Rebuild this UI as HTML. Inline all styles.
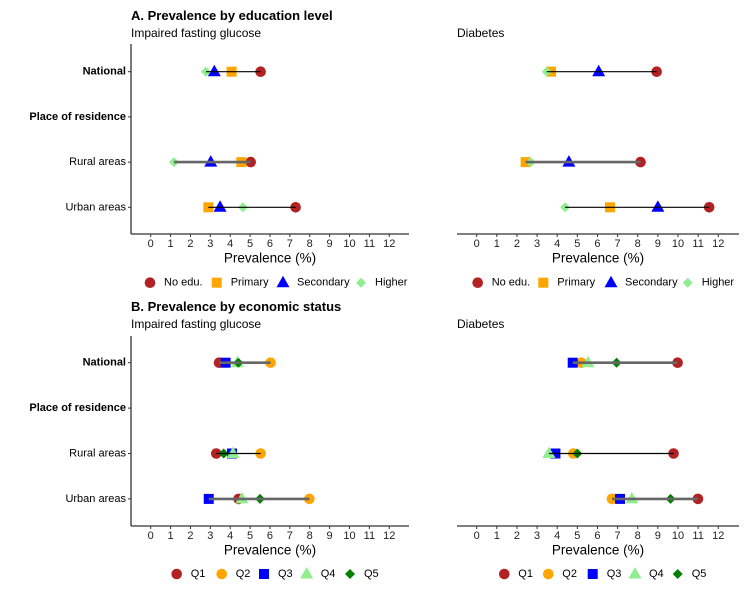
<!DOCTYPE html>
<html><head><meta charset="utf-8"><style>
body{margin:0;background:#fff;}
svg text{font-family:"Liberation Sans",Arial,sans-serif;}
</style></head><body>
<svg id="chart" width="750" height="600" xmlns="http://www.w3.org/2000/svg"></svg>
<script>
const rowLabels = ["National","Place of residence","Rural areas","Urban areas"];
const rowBold = [true,true,false,false];
const xTicks = [0,1,2,3,4,5,6,7,8,9,10,11,12];
const eduSeries = ["No edu.","Primary","Secondary","Higher"];
const ecoSeries = ["Q1","Q2","Q3","Q4","Q5"];
// values per row: National, Rural, Urban (Place of residence is a header row)
const eduIfg = [[5.53,4.07,3.2,2.78],[5.03,4.56,3.02,1.17],[7.29,2.9,3.49,4.64]];
const eduDia = [[8.94,3.69,6.06,3.48],[8.14,2.43,4.58,2.68],[11.55,6.62,9.0,4.39]];
const ecoIfg = [[3.44,6.03,3.77,4.36,4.41],[3.30,5.53,4.09,4.14,3.67],[4.42,7.98,2.92,4.59,5.5]];
const ecoDia = [[9.98,5.2,4.77,5.53,6.95],[9.78,4.8,3.91,3.59,5.0],[10.99,6.72,7.12,7.71,9.63]];

const svg = document.getElementById('chart');
const NS = 'http://www.w3.org/2000/svg';
function mk(tag, attrs, parent){const e=document.createElementNS(NS,tag);for(const k in attrs)e.setAttribute(k,attrs[k]);(parent||svg).appendChild(e);return e;}
function txt(s,x,y,opt,parent){const t=mk('text',Object.assign({x:x,y:y,'dominant-baseline':'central'},opt),parent);t.textContent=s;return t;}

const shapeInfo = {
  edu:[{s:'circle',c:'#B22222'},{s:'square',c:'#FFA500'},{s:'triangle',c:'#0000FF'},{s:'diamond',c:'#90EE90'}],
  eco:[{s:'circle',c:'#B22222'},{s:'circle',c:'#FFA500'},{s:'square',c:'#0000FF'},{s:'triangle',c:'#90EE90'},{s:'diamond',c:'#008000'}]
};
function marker(shape,color,x,y,g){
  let e;
  if(shape==='circle') e=mk('circle',{cx:x,cy:y,r:5.3,fill:color},g);
  else if(shape==='square') e=mk('rect',{x:x-5,y:y-5,width:10,height:10,fill:color},g);
  else if(shape==='triangle') e=mk('polygon',{points:`${x},${y-7} ${x+6.5},${y+4.5} ${x-6.5},${y+4.5}`,fill:color},g);
  else e=mk('polygon',{points:`${x},${y-5} ${x+5},${y} ${x},${y+5} ${x-5},${y}`,fill:color},g);
  return e;
}

function panel(opt){
  const g=mk('g',{});
  
  
  const xs=v=>opt.x0+v*opt.unit;
  const ys=i=>opt.rowTop+i*opt.rowStep;
  // axes
  const xa=mk('line',{x1:opt.left,x2:opt.right,y1:opt.axisY,y2:opt.axisY,stroke:'#333','stroke-width':1.3},g);
  
  
  if(opt.yaxis){
    const ya=mk('line',{x1:opt.left,x2:opt.left,y1:opt.axisTop,y2:opt.axisY,stroke:'#333','stroke-width':1.3},g);
    
    
    rowLabels.forEach((l,i)=>{
      mk('line',{x1:opt.left-3,x2:opt.left,y1:ys(i),y2:ys(i),stroke:'#333'},g);
      const t=txt(l,opt.left-5,ys(i),{'text-anchor':'end','font-size':11,'font-weight':rowBold[i]?'bold':'normal',fill:'#000'},g);
      
      
    });
  }
  xTicks.forEach(v=>{
    mk('line',{x1:xs(v),x2:xs(v),y1:opt.axisY,y2:opt.axisY+3,stroke:'#333'},g);
    const t=txt(String(v),xs(v),opt.axisY+10,{'text-anchor':'middle','font-size':11,fill:'#222'},g);
    
    
  });
  const at=txt('Prevalence (%)',(opt.left+opt.right)/2,opt.axisY+24,{'text-anchor':'middle','font-size':13.5,fill:'#000'},g);
  
  
  const st=txt(opt.subtitle,opt.subX,opt.subY,{'font-size':12,fill:'#000'},g);
  
  
  // data rows: rows 0,2,3
  const rowIdx=[0,2,3];
  opt.data.forEach((vals,k)=>{
    const y=ys(rowIdx[k]);
    vals.forEach((v,j)=>{
      const m=marker(shapeInfo[opt.kind][j].s,shapeInfo[opt.kind][j].c,xs(v),y,g);
      
      
    });
    const mn=Math.min(...vals),mx=Math.max(...vals);
    const thick=opt.thick[k];
    const ln=mk('line',{x1:xs(mn),x2:xs(mx),y1:y,y2:y,stroke:thick?'#666':'#000','stroke-width':thick?2.6:1.2},g);
    
    
  });
  // legend
  const lg=mk('g',{},g);
  
  
  opt.series.forEach((s,j)=>{
    const m=marker(shapeInfo[opt.kind][j].s,shapeInfo[opt.kind][j].c,opt.legX[j],opt.legY,lg);
    
    
    const t=txt(s,opt.legX[j]+14,opt.legY,{'font-size':11,fill:'#000'},lg);
    
    
  });
}

const tA=txt('A. Prevalence by education level',131,15.5,{'font-size':13,'font-weight':'bold',fill:'#000'});


const tB=txt('B. Prevalence by economic status',131,306.5,{'font-size':13,'font-weight':'bold',fill:'#000'});



const L={left:131,right:409,x0:150.7,unit:19.88,yaxis:true,subX:131};
const R={left:457,right:739,x0:476.7,unit:20.13,yaxis:false,subX:457};
panel(Object.assign({},L,{name:'panel-edu-ifg',kind:'edu',series:eduSeries,data:eduIfg,thick:[false,true,false],subtitle:'Impaired fasting glucose',subY:33,axisTop:44,axisY:234,rowTop:71.7,rowStep:45.2,legY:282.7,legX:[150,216.7,283,361]}));
panel(Object.assign({},R,{name:'panel-edu-diabetes',kind:'edu',series:eduSeries,data:eduDia,thick:[false,true,false],subtitle:'Diabetes',subY:33,axisTop:44,axisY:234,rowTop:71.7,rowStep:45.2,legY:282.7,legX:[477.7,543.3,611,687.7]}));
panel(Object.assign({},L,{name:'panel-eco-ifg',kind:'eco',series:ecoSeries,data:ecoIfg,thick:[true,false,true],subtitle:'Impaired fasting glucose',subY:324,axisTop:336,axisY:526,rowTop:362.7,rowStep:45.4,legY:574,legX:[176.7,221.7,264,306.7,350]}));
panel(Object.assign({},R,{name:'panel-eco-diabetes',kind:'eco',series:ecoSeries,data:ecoDia,thick:[true,false,true],subtitle:'Diabetes',subY:324,axisTop:336,axisY:526,rowTop:362.7,rowStep:45.4,legY:574,legX:[504.3,548.3,592.7,635,677.7]}));
</script>
</body></html>
